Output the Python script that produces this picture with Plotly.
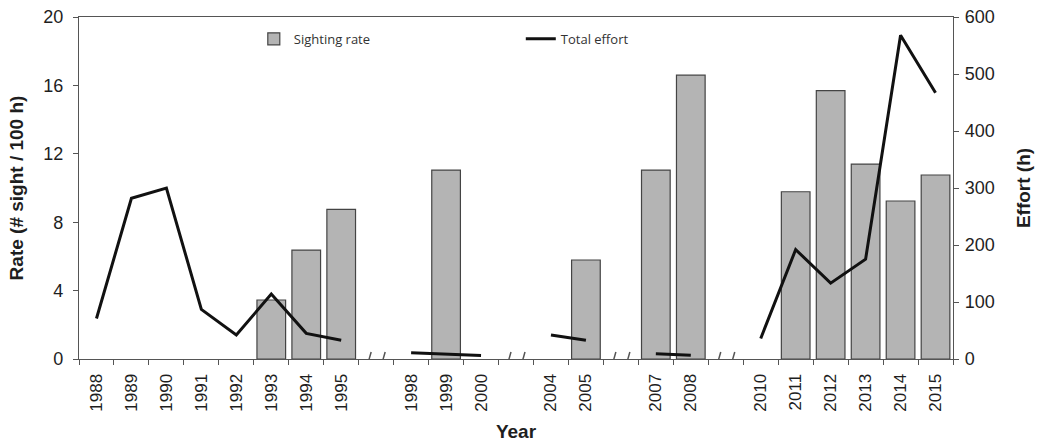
import plotly.graph_objects as go

# ---- data ----
years = [1988, 1989, 1990, 1991, 1992, 1993, 1994, 1995,
         1998, 1999, 2000,
         2004, 2005,
         2007, 2008,
         2010, 2011, 2012, 2013, 2014, 2015]
sighting_rate = [None, None, None, None, None, 3.45, 6.37, 8.75,
                 None, 11.05, None,
                 None, 5.79,
                 11.05, 16.6,
                 None, 9.78, 15.7, 11.4, 9.24, 10.76]
total_effort = [71, 282, 300, 87, 42, 114, 45, 33,
                11, 8, 6,
                42, 33,
                9, 6.5,
                36, 192, 133, 175, 568, 467]
break_after = [1995, 2000, 2005, 2008]   # axis breaks follow these years

# ---- build category axis with blank gap slots ----
cats, eff_x, eff_y = [], [], []
gaps = []
for y, e in zip(years, total_effort):
    cats.append(str(y))
    eff_x.append(str(y))
    eff_y.append(e)
    if y in break_after:
        g = " " * (len(gaps) + 1)
        gaps.append(g)
        cats.append(g)
        eff_x.append(g)
        eff_y.append(None)

bar_x = [str(y) for y, r in zip(years, sighting_rate) if r is not None]
bar_y = [r for r in sighting_rate if r is not None]

AX = "#555555"
TXT = "#1e1e1e"
FONT = "Liberation Sans, Arial, sans-serif"

fig = go.Figure()
fig.add_trace(go.Bar(
    x=bar_x, y=bar_y, name="Sighting rate",
    marker=dict(color="#b4b4b4", line=dict(color="#444444", width=1.2)),
    yaxis="y",
))
fig.add_trace(go.Scatter(
    x=eff_x, y=eff_y, name="Total effort", mode="lines",
    line=dict(color="#111111", width=3), connectgaps=False,
    yaxis="y2",
))

shapes = []
for g in gaps:
    shapes.append(dict(type="rect", layer="above", xref="x", yref="y",
                       xsizemode="pixel", xanchor=g, x0=-6, x1=6,
                       ysizemode="pixel", yanchor=0, y0=-3, y1=3,
                       fillcolor="white", line=dict(width=0)))
    for dx in (-7, 7):
        shapes.append(dict(type="line", layer="above", xref="x", yref="y",
                           xsizemode="pixel", xanchor=g, x0=dx - 2, x1=dx + 2,
                           ysizemode="pixel", yanchor=0, y0=-7, y1=7,
                           line=dict(color=AX, width=1.5)))

fig.update_layout(
    width=1040, height=442,
    margin=dict(l=79, r=87, t=17, b=83),
    paper_bgcolor="white", plot_bgcolor="white",
    font=dict(family=FONT, size=17, color=TXT),
    bargap=0.18,
    showlegend=True,
    legend=dict(orientation="h", x=0.2, y=0.98, xanchor="left", yanchor="top",
                font=dict(family="Open Sans, sans-serif", size=13, color="#333333"),
                entrywidth=222, entrywidthmode="pixels",
                bgcolor="rgba(0,0,0,0)", traceorder="normal"),
    xaxis=dict(type="category", categoryorder="array", categoryarray=cats,
               range=[-0.5, len(cats) - 0.5], automargin=False,
               tickson="boundaries", ticks="outside", ticklen=5, tickcolor=AX,
               tickangle=-90, tickfont=dict(size=17, color=TXT),
               ticklabelstandoff=7,
               showline=True, linecolor=AX, linewidth=1.2, mirror=True,
               showgrid=False, zeroline=False,
               title=dict(text="<b>Year</b>", font=dict(size=19, color=TXT), standoff=14)),
    yaxis=dict(range=[0, 20], dtick=4, ticks="outside", ticklen=5, tickcolor=AX,
               showline=True, linecolor=AX, linewidth=1.2, automargin=False,
               showgrid=False, zeroline=False,
               tickfont=dict(size=18, color=TXT), ticklabelstandoff=6,
               title=dict(text="<b>Rate (# sight / 100 h)</b>", font=dict(size=19, color=TXT), standoff=14)),
    yaxis2=dict(range=[0, 600], dtick=100, overlaying="y", side="right",
                ticks="outside", ticklen=5, tickcolor=AX, automargin=False,
                showline=True, linecolor=AX, linewidth=1.2,
                showgrid=False, zeroline=False,
                tickfont=dict(size=18, color=TXT), ticklabelstandoff=2,
                title=dict(text="<b>Effort (h)</b>", font=dict(size=19, color=TXT), standoff=22)),
    shapes=shapes,
)

fig.write_html("out.html")
